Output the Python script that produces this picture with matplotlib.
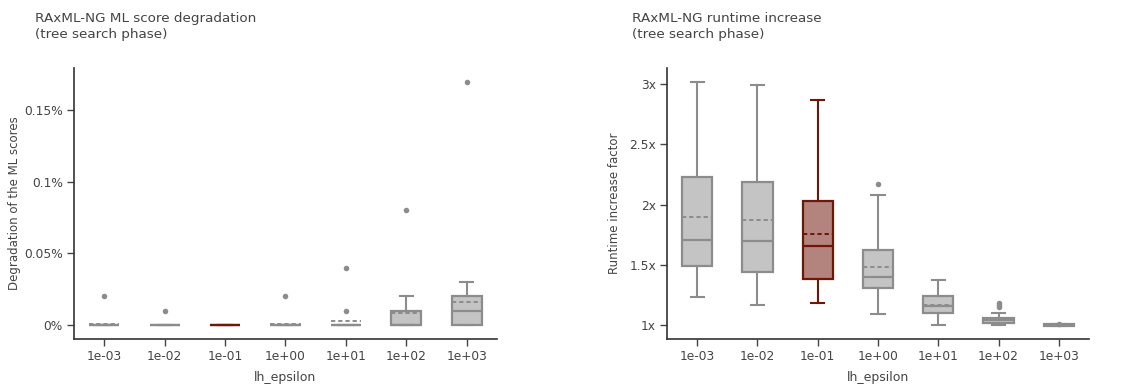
import matplotlib
matplotlib.use("Agg")
from matplotlib import pyplot as plt
from matplotlib.ticker import FuncFormatter

categories = ["1e-03", "1e-02", "1e-01", "1e+00", "1e+01", "1e+02", "1e+03"]
highlight = "1e-01"

# ML score degradation, in percent
deg_low = [0, 0, 0, 0, 0, 0, 0]
deg_q1 = [0, 0, 0, 0, 0, 0, 0]
deg_med = [0, 0, 0, 0, 0, 0, 0.01]
deg_q3 = [0, 0, 0, 0, 0, 0.01, 0.02]
deg_high = [0, 0, 0, 0, 0, 0.02, 0.03]
deg_mean = [0.0005, 0, 0, 0.0005, 0.003, 0.0085, 0.0163]
deg_fliers = [[0.02], [0.01], [], [0.02], [0.01, 0.04], [0.08], [0.17]]

# runtime increase factor
rt_low = [1.235, 1.17, 1.18, 1.09, 1.00, 1.00, 0.995]
rt_q1 = [1.49, 1.44, 1.38, 1.31, 1.10, 1.02, 0.995]
rt_med = [1.71, 1.70, 1.66, 1.40, 1.16, 1.04, 1.00]
rt_q3 = [2.23, 2.19, 2.03, 1.62, 1.24, 1.06, 1.005]
rt_high = [3.02, 2.99, 2.87, 2.08, 1.37, 1.10, 1.005]
rt_mean = [1.90, 1.87, 1.76, 1.48, 1.17, 1.045, 1.00]
rt_fliers = [[], [], [], [2.17], [], [1.15, 1.17, 1.18], [1.01]]

GREY_LINE = "#8c8c8c"
GREY_FILL = "#c4c4c4"
RED_LINE = "#6e1608"
RED_FILL = "#b3847d"
TXT = "#444444"


def draw_boxes(ax, low, q1, med, q3, high, mean, fliers):
    for i, cat in enumerate(categories):
        line = RED_LINE if cat == highlight else GREY_LINE
        fill = RED_FILL if cat == highlight else GREY_FILL
        stats = [{"whislo": low[i], "q1": q1[i], "med": med[i], "q3": q3[i],
                  "whishi": high[i], "mean": mean[i], "fliers": fliers[i]}]
        ax.bxp(stats, positions=[i], widths=0.5, capwidths=0.22,
               patch_artist=True, showmeans=True, meanline=True,
               boxprops=dict(facecolor=fill, edgecolor=line, linewidth=1.6),
               medianprops=dict(color=line, linewidth=1.6),
               meanprops=dict(color=line, linewidth=1.4, linestyle=(0, (2.2, 1.5))),
               whiskerprops=dict(color=line, linewidth=1.5),
               capprops=dict(color=line, linewidth=1.5),
               flierprops=dict(marker="o", markersize=4, markerfacecolor=GREY_LINE,
                               markeredgecolor="none"))
    ax.set_xlim(-0.5, 6.5)
    ax.set_xticks(range(len(categories)))
    ax.set_xticklabels(categories)
    ax.spines["top"].set_visible(False)
    ax.spines["right"].set_visible(False)
    for s in ["left", "bottom"]:
        ax.spines[s].set_color("#333333")
        ax.spines[s].set_linewidth(1.2)
    ax.tick_params(colors=TXT, labelsize=8.8, length=5, width=1, direction="out", pad=3)
    ax.set_xlabel("lh_epsilon", fontsize=9, color=TXT, labelpad=6)


fig = plt.figure(figsize=(11.26, 3.85), dpi=100)

ax1 = fig.add_axes([0.0657, 0.1195, 0.3757, 0.704])
draw_boxes(ax1, deg_low, deg_q1, deg_med, deg_q3, deg_high, deg_mean, deg_fliers)
ax1.set_ylim(-0.0098, 0.1795)
ax1.set_yticks([0, 0.05, 0.1, 0.15])
ax1.yaxis.set_major_formatter(FuncFormatter(lambda v, p: ("%g" % round(v, 3)) + "%"))
ax1.set_ylabel("Degradation of the ML scores", fontsize=8.5, color=TXT, labelpad=2)

ax2 = fig.add_axes([0.5924, 0.1195, 0.3747, 0.704])
draw_boxes(ax2, rt_low, rt_q1, rt_med, rt_q3, rt_high, rt_mean, rt_fliers)
ax2.set_ylim(0.884, 3.135)
ax2.set_yticks([1, 1.5, 2, 2.5, 3])
ax2.yaxis.set_major_formatter(FuncFormatter(lambda v, p: ("%g" % v) + "x"))
ax2.set_ylabel("Runtime increase factor", fontsize=8.5, color=TXT, labelpad=6)

fig.text(0.031, 1 - 12 / 385, "RAxML-NG ML score degradation\n(tree search phase)",
         fontsize=9.7, color=TXT, va="top", ha="left", linespacing=1.3)
fig.text(0.5613, 1 - 12 / 385, "RAxML-NG runtime increase\n(tree search phase)",
         fontsize=9.7, color=TXT, va="top", ha="left", linespacing=1.3)

fig.savefig("out.png", dpi=100)
